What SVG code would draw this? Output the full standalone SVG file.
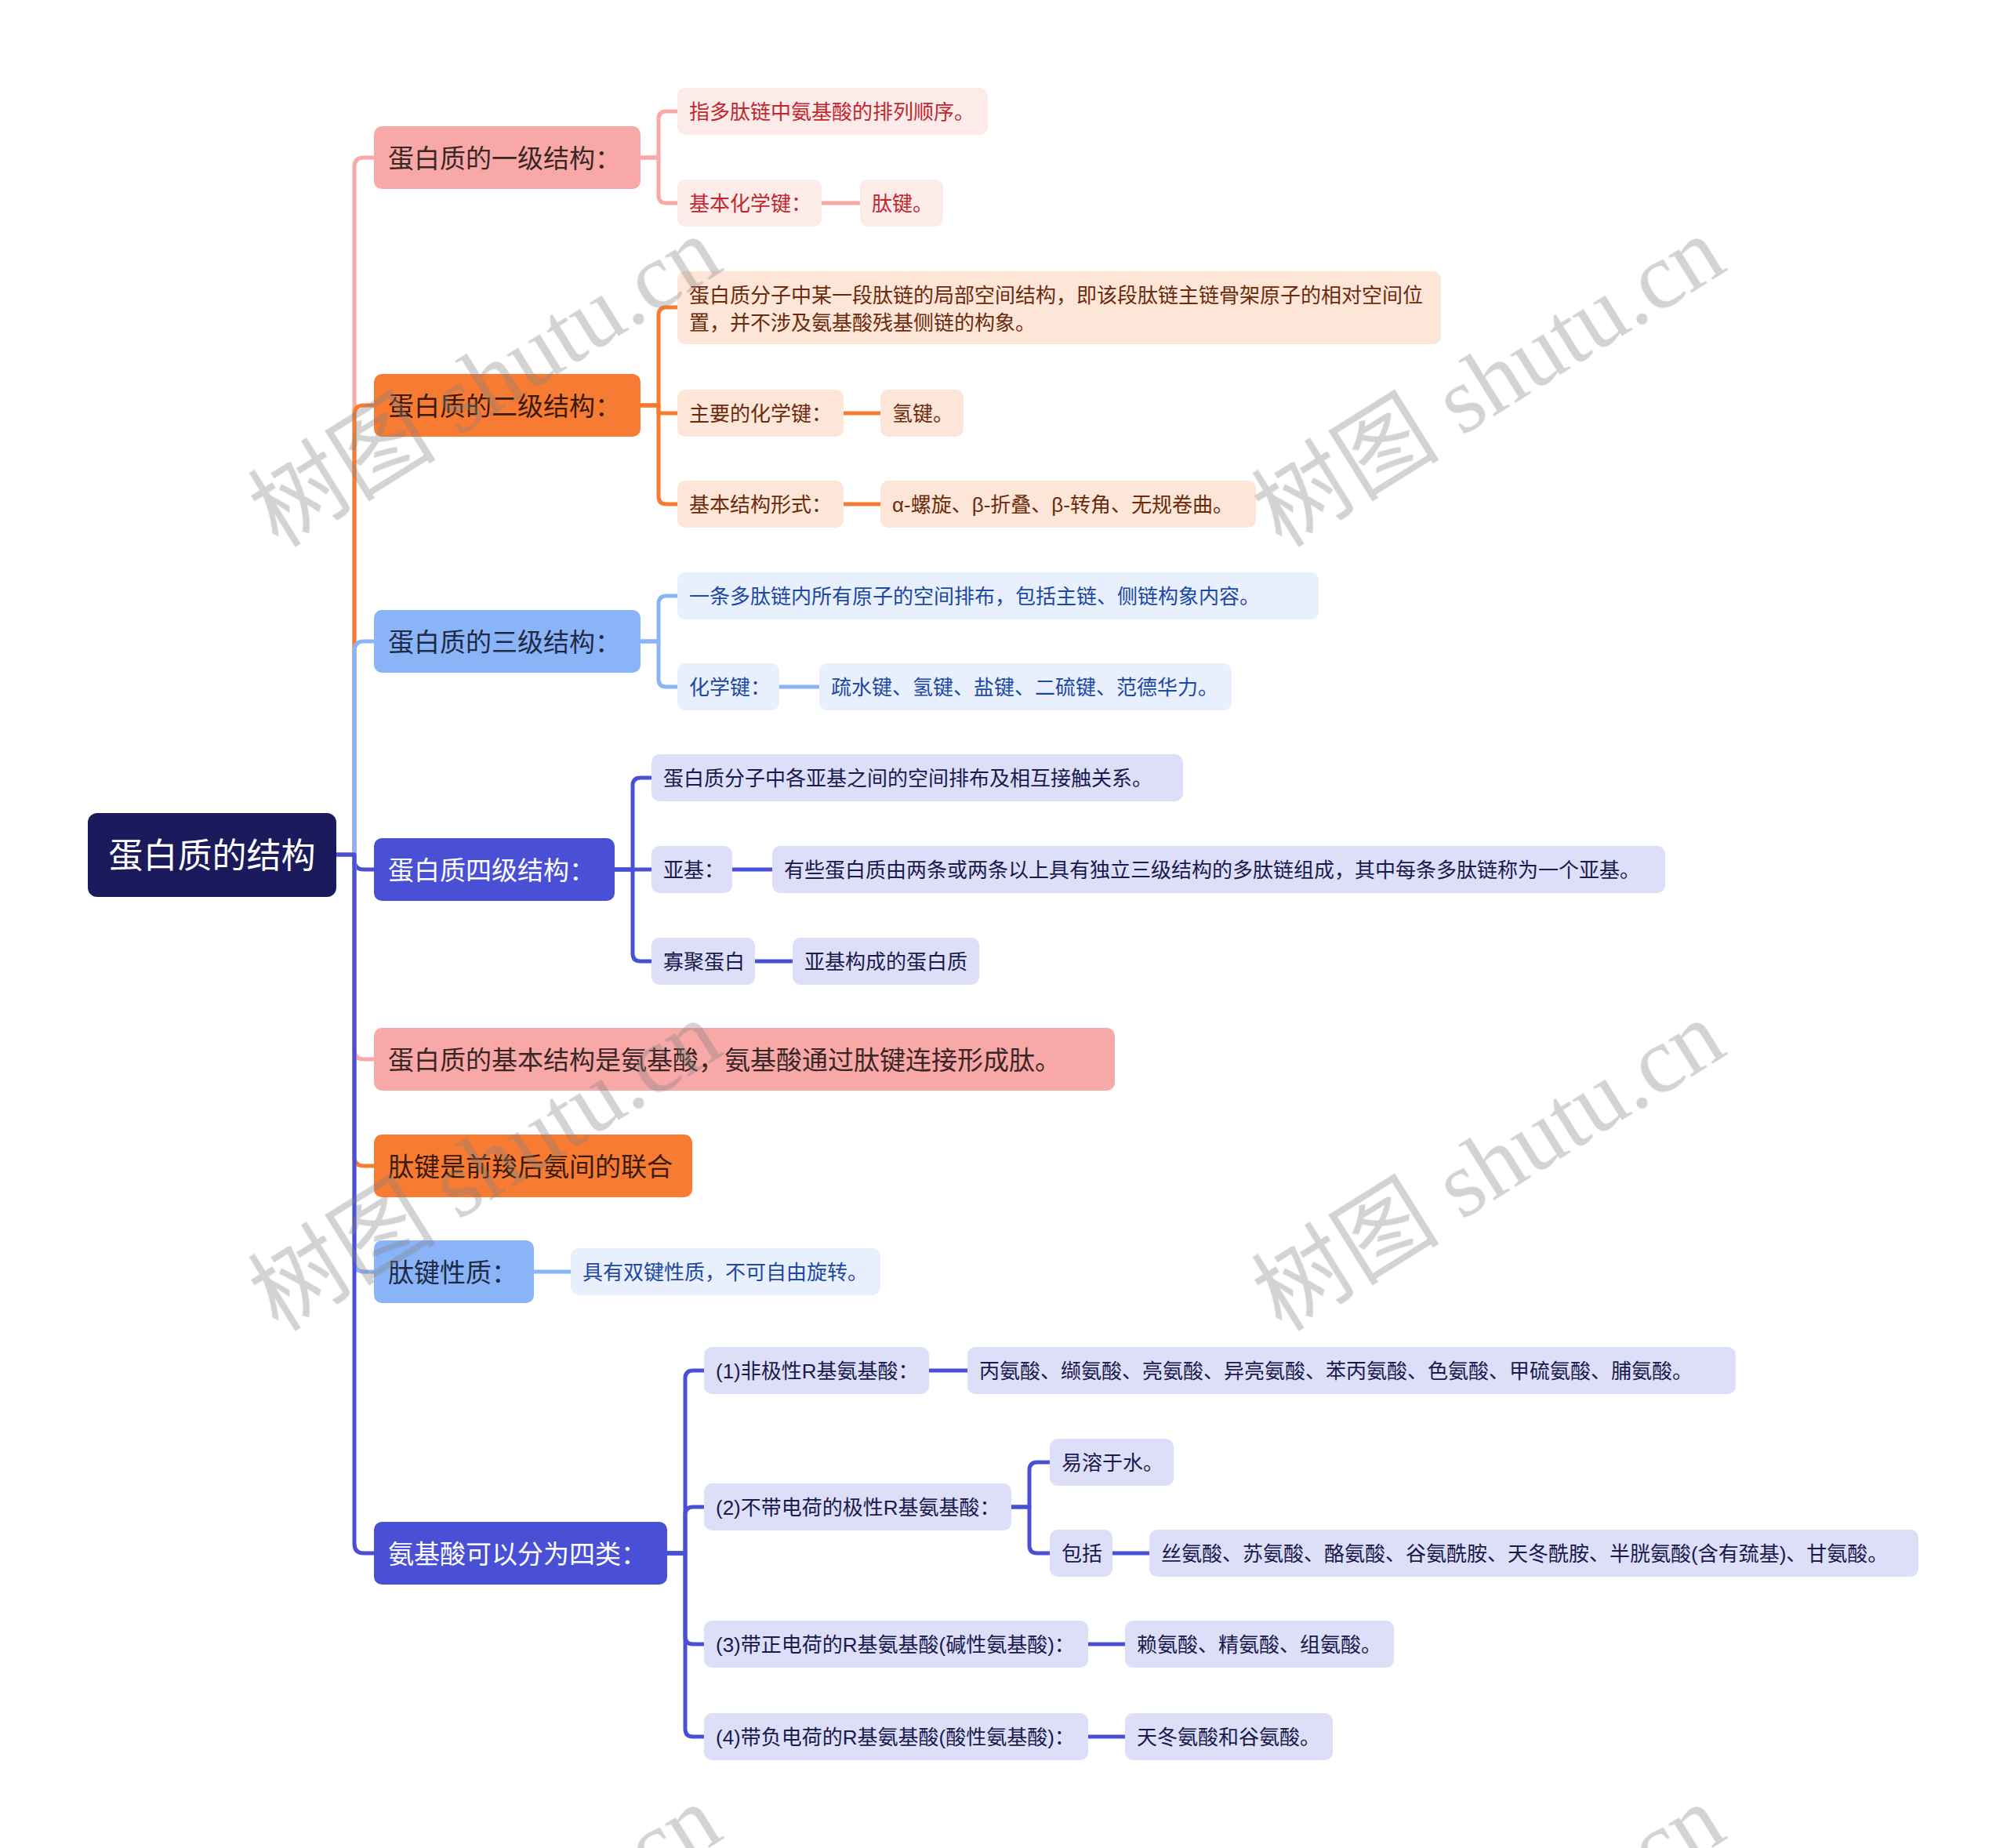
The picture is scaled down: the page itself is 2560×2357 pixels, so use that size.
<svg xmlns="http://www.w3.org/2000/svg" width="2560" height="2357" viewBox="0 0 2560 2357">
<style>
text{font-family:"Liberation Sans","Noto Sans CJK SC",sans-serif;}
.root text{font-size:44px;fill:#fff;}
.l1 text{font-size:33px;}
.l2 text{font-size:26px;}
.pk1 rect{fill:#F8A8A6;} .pk1 text{fill:#3A2626;}
.or1 rect{fill:#F77B33;} .or1 text{fill:#3A1A08;}
.bl1 rect{fill:#8AB4F8;} .bl1 text{fill:#1F2A44;}
.in1 rect{fill:#4A50D5;} .in1 text{fill:#fff;}
.pk2 rect{fill:#FDEBEA;} .pk2 text{fill:#C1272D;}
.or2 rect{fill:#FDE5D7;} .or2 text{fill:#6B2B0C;}
.bl2 rect{fill:#E8F0FE;} .bl2 text{fill:#1D48A3;}
.in2 rect{fill:#DDDEF8;} .in2 text{fill:#1A1A4E;}
.c path{fill:none;stroke-width:5;stroke-linecap:round;stroke-linejoin:round;}
.cpk{stroke:#F8A8A6;} .cor{stroke:#F77B33;} .cbl{stroke:#8AB4F8;} .cin{stroke:#4A50D5;}
.wm text{font-family:"Liberation Serif","Noto Sans CJK SC",serif;font-size:120px;fill:#808080;}
</style>

<g id="connectors" class="c">
  <path class="cpk" d="M 429 1090 H 452 V 213 Q 452 201 464 201 H 477"/>
  <path class="cor" d="M 429 1090 H 452 V 529 Q 452 517 464 517 H 477"/>
  <path class="cbl" d="M 429 1090 H 452 V 830 Q 452 818 464 818 H 477"/>
  <path class="cin" d="M 429 1090 H 452 V 1097 Q 452 1109 464 1109 H 477"/>
  <path class="cpk" d="M 429 1090 H 452 V 1339 Q 452 1351 464 1351 H 477"/>
  <path class="cor" d="M 429 1090 H 452 V 1475 Q 452 1487 464 1487 H 477"/>
  <path class="cbl" d="M 429 1090 H 452 V 1610 Q 452 1622 464 1622 H 477"/>
  <path class="cin" d="M 429 1090 H 452 V 1969 Q 452 1981 464 1981 H 477"/>

  <path class="cpk" d="M 817 201 H 840 V 152 Q 840 142 850 142 H 864"/>
  <path class="cpk" d="M 817 201 H 840 V 249 Q 840 259 850 259 H 864"/>
  <path class="cpk" d="M 1048 259 H 1097"/>

  <path class="cor" d="M 817 517 H 840 V 402 Q 840 392 850 392 H 864"/>
  <path class="cor" d="M 817 517 H 840 V 527 H 864"/>
  <path class="cor" d="M 817 517 H 840 V 633 Q 840 643 850 643 H 864"/>
  <path class="cor" d="M 1076 527 H 1123"/>
  <path class="cor" d="M 1076 643 H 1123"/>

  <path class="cbl" d="M 817 818 H 840 V 770 Q 840 760 850 760 H 864"/>
  <path class="cbl" d="M 817 818 H 840 V 866 Q 840 876 850 876 H 864"/>
  <path class="cbl" d="M 994 876 H 1045"/>

  <path class="cin" d="M 784 1109 H 807 V 1002 Q 807 992 817 992 H 831"/>
  <path class="cin" d="M 784 1109 H 831"/>
  <path class="cin" d="M 784 1109 H 807 V 1216 Q 807 1226 817 1226 H 831"/>
  <path class="cin" d="M 934 1109 H 985"/>
  <path class="cin" d="M 963 1226 H 1011"/>

  <path class="cbl" d="M 681 1622 H 728"/>

  <path class="cin" d="M 851 1981 H 874 V 1758 Q 874 1748 884 1748 H 898"/>
  <path class="cin" d="M 851 1981 H 874 V 1932 Q 874 1922 884 1922 H 898"/>
  <path class="cin" d="M 851 1981 H 874 V 2087 Q 874 2097 884 2097 H 898"/>
  <path class="cin" d="M 851 1981 H 874 V 2205 Q 874 2215 884 2215 H 898"/>
  <path class="cin" d="M 1185 1748 H 1234"/>
  <path class="cin" d="M 1290 1922 H 1313 V 1875 Q 1313 1865 1323 1865 H 1339"/>
  <path class="cin" d="M 1290 1922 H 1313 V 1971 Q 1313 1981 1323 1981 H 1339"/>
  <path class="cin" d="M 1419 1981 H 1466"/>
  <path class="cin" d="M 1388 2097 H 1435"/>
  <path class="cin" d="M 1388 2215 H 1435"/>
</g>

<g id="root" class="root">
  <rect x="112" y="1037" width="317" height="107" rx="12" fill="#1B1A5C"/>
  <text x="270.5" y="1091" text-anchor="middle" dominant-baseline="central">蛋白质的结构</text>
</g>

<g id="n1" class="l1 pk1"><rect x="477" y="161" width="340" height="80" rx="10"/><text x="495" y="202" dominant-baseline="central">蛋白质的一级结构：</text></g>
<g id="n2" class="l1 or1"><rect x="477" y="477" width="340" height="80" rx="10"/><text x="495" y="518" dominant-baseline="central">蛋白质的二级结构：</text></g>
<g id="n3" class="l1 bl1"><rect x="477" y="778" width="340" height="80" rx="10"/><text x="495" y="819" dominant-baseline="central">蛋白质的三级结构：</text></g>
<g id="n4" class="l1 in1"><rect x="477" y="1069" width="307" height="80" rx="10"/><text x="495" y="1110" dominant-baseline="central">蛋白质四级结构：</text></g>
<g id="n5" class="l1 pk1"><rect x="477" y="1311" width="945" height="80" rx="10"/><text x="495" y="1352" dominant-baseline="central">蛋白质的基本结构是氨基酸，氨基酸通过肽键连接形成肽。</text></g>
<g id="n6" class="l1 or1"><rect x="477" y="1447" width="406" height="80" rx="10"/><text x="495" y="1488" dominant-baseline="central">肽键是前羧后氨间的联合</text></g>
<g id="n7" class="l1 bl1"><rect x="477" y="1582" width="204" height="80" rx="10"/><text x="495" y="1623" dominant-baseline="central">肽键性质：</text></g>
<g id="n8" class="l1 in1"><rect x="477" y="1941" width="374" height="80" rx="10"/><text x="495" y="1982" dominant-baseline="central">氨基酸可以分为四类：</text></g>

<g id="a1" class="l2 pk2"><rect x="864" y="112" width="396" height="60" rx="10"/><text x="879" y="143" dominant-baseline="central">指多肽链中氨基酸的排列顺序。</text></g>
<g id="a2" class="l2 pk2"><rect x="864" y="229" width="184" height="60" rx="10"/><text x="879" y="260" dominant-baseline="central">基本化学键：</text></g>
<g id="a3" class="l2 pk2"><rect x="1097" y="229" width="106" height="60" rx="10"/><text x="1112" y="260" dominant-baseline="central">肽键。</text></g>

<g id="b1" class="l2 or2"><rect x="864" y="346" width="974" height="93" rx="10"/><text x="879" y="377" dominant-baseline="central">蛋白质分子中某一段肽链的局部空间结构，即该段肽链主链骨架原子的相对空间位</text><text x="879" y="412" dominant-baseline="central">置，并不涉及氨基酸残基侧链的构象。</text></g>
<g id="b2" class="l2 or2"><rect x="864" y="497" width="212" height="60" rx="10"/><text x="879" y="528" dominant-baseline="central">主要的化学键：</text></g>
<g id="b3" class="l2 or2"><rect x="1123" y="497" width="106" height="60" rx="10"/><text x="1138" y="528" dominant-baseline="central">氢键。</text></g>
<g id="b4" class="l2 or2"><rect x="864" y="613" width="212" height="60" rx="10"/><text x="879" y="644" dominant-baseline="central">基本结构形式：</text></g>
<g id="b5" class="l2 or2"><rect x="1123" y="613" width="479" height="60" rx="10"/><text x="1138" y="644" dominant-baseline="central">α-螺旋、β-折叠、β-转角、无规卷曲。</text></g>

<g id="c1" class="l2 bl2"><rect x="864" y="730" width="818" height="60" rx="10"/><text x="879" y="761" dominant-baseline="central">一条多肽链内所有原子的空间排布，包括主链、侧链构象内容。</text></g>
<g id="c2" class="l2 bl2"><rect x="864" y="846" width="130" height="60" rx="10"/><text x="879" y="877" dominant-baseline="central">化学键：</text></g>
<g id="c3" class="l2 bl2"><rect x="1045" y="846" width="526" height="60" rx="10"/><text x="1060" y="877" dominant-baseline="central">疏水键、氢键、盐键、二硫键、范德华力。</text></g>

<g id="d1" class="l2 in2"><rect x="831" y="962" width="678" height="60" rx="10"/><text x="846" y="993" dominant-baseline="central">蛋白质分子中各亚基之间的空间排布及相互接触关系。</text></g>
<g id="d2" class="l2 in2"><rect x="831" y="1079" width="103" height="60" rx="10"/><text x="846" y="1110" dominant-baseline="central">亚基：</text></g>
<g id="d3" class="l2 in2"><rect x="985" y="1079" width="1139" height="60" rx="10"/><text x="1000" y="1110" dominant-baseline="central">有些蛋白质由两条或两条以上具有独立三级结构的多肽链组成，其中每条多肽链称为一个亚基。</text></g>
<g id="d4" class="l2 in2"><rect x="831" y="1196" width="132" height="60" rx="10"/><text x="846" y="1227" dominant-baseline="central">寡聚蛋白</text></g>
<g id="d5" class="l2 in2"><rect x="1011" y="1196" width="238" height="60" rx="10"/><text x="1026" y="1227" dominant-baseline="central">亚基构成的蛋白质</text></g>

<g id="e1" class="l2 bl2"><rect x="728" y="1592" width="395" height="60" rx="10"/><text x="743" y="1623" dominant-baseline="central">具有双键性质，不可自由旋转。</text></g>

<g id="f1" class="l2 in2"><rect x="898" y="1718" width="287" height="60" rx="10"/><text x="913" y="1749" dominant-baseline="central">(1)非极性R基氨基酸：</text></g>
<g id="f2" class="l2 in2"><rect x="1234" y="1718" width="980" height="60" rx="10"/><text x="1249" y="1749" dominant-baseline="central">丙氨酸、缬氨酸、亮氨酸、异亮氨酸、苯丙氨酸、色氨酸、甲硫氨酸、脯氨酸。</text></g>
<g id="f3" class="l2 in2"><rect x="898" y="1892" width="392" height="60" rx="10"/><text x="913" y="1923" dominant-baseline="central">(2)不带电荷的极性R基氨基酸：</text></g>
<g id="f4" class="l2 in2"><rect x="1339" y="1835" width="158" height="60" rx="10"/><text x="1354" y="1866" dominant-baseline="central">易溶于水。</text></g>
<g id="f5" class="l2 in2"><rect x="1339" y="1951" width="80" height="60" rx="10"/><text x="1354" y="1982" dominant-baseline="central">包括</text></g>
<g id="f6" class="l2 in2"><rect x="1466" y="1951" width="981" height="60" rx="10"/><text x="1481" y="1982" dominant-baseline="central">丝氨酸、苏氨酸、酪氨酸、谷氨酰胺、天冬酰胺、半胱氨酸(含有巯基)、甘氨酸。</text></g>
<g id="f7" class="l2 in2"><rect x="898" y="2067" width="490" height="60" rx="10"/><text x="913" y="2098" dominant-baseline="central">(3)带正电荷的R基氨基酸(碱性氨基酸)：</text></g>
<g id="f8" class="l2 in2"><rect x="1435" y="2067" width="343" height="60" rx="10"/><text x="1450" y="2098" dominant-baseline="central">赖氨酸、精氨酸、组氨酸。</text></g>
<g id="f9" class="l2 in2"><rect x="898" y="2185" width="490" height="60" rx="10"/><text x="913" y="2216" dominant-baseline="central">(4)带负电荷的R基氨基酸(酸性氨基酸)：</text></g>
<g id="f10" class="l2 in2"><rect x="1435" y="2185" width="265" height="60" rx="10"/><text x="1450" y="2216" dominant-baseline="central">天冬氨酸和谷氨酸。</text></g>

<g id="watermark" class="wm" opacity="0.35">
  <text x="355" y="700" transform="rotate(-32 355 700)">树图 shutu.cn</text>
  <text x="1635" y="700" transform="rotate(-32 1635 700)">树图 shutu.cn</text>
  <text x="355" y="1700" transform="rotate(-32 355 1700)">树图 shutu.cn</text>
  <text x="1635" y="1700" transform="rotate(-32 1635 1700)">树图 shutu.cn</text>
  <text x="355" y="2700" transform="rotate(-32 355 2700)">树图 shutu.cn</text>
  <text x="1635" y="2700" transform="rotate(-32 1635 2700)">树图 shutu.cn</text>
</g>
</svg>
